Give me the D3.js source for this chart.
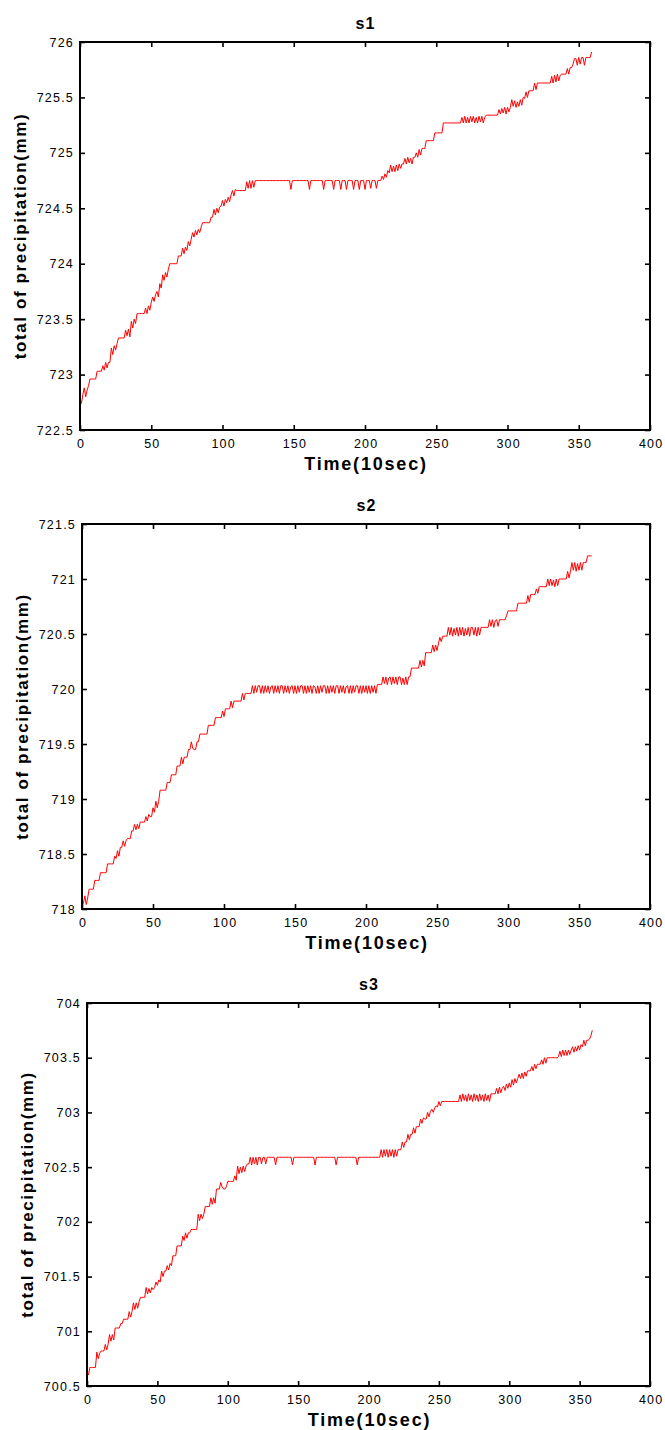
<!DOCTYPE html>
<html>
<head>
<meta charset="utf-8">
<script src="https://cdn.jsdelivr.net/npm/d3@7"></script>
<style>
  body { margin: 0; background: #fff; }
  svg { display: block; }
  .tick text { font-family: "Liberation Sans", Arial, sans-serif; font-size: 12.5px; letter-spacing: 1.2px; fill: #000; }
  .tick line { stroke: #000; stroke-width: 1.6; }
  .label { font-family: "Liberation Sans", Arial, sans-serif; font-weight: bold; fill: #000; }
</style>
</head>
<body>
<svg id="chart" width="665" height="1430"></svg>
<script>
// Accumulated precipitation at three stations, one sample per 10 s.
const stationNames = ["s1", "s2", "s3"];

const s1 = [
  722.78,722.74,722.82,722.88,722.80,722.86,722.90,722.96,722.96,722.96,
  722.96,722.96,723.03,723.03,723.03,723.03,723.08,723.04,723.11,723.06,
  723.11,723.11,723.24,723.18,723.26,723.22,723.28,723.33,723.33,723.33,
  723.33,723.33,723.40,723.35,723.41,723.34,723.48,723.42,723.50,723.46,
  723.55,723.55,723.55,723.55,723.55,723.55,723.60,723.55,723.62,723.58,
  723.65,723.70,723.66,723.72,723.75,723.70,723.82,723.78,723.90,723.85,
  723.92,723.88,723.95,724.00,724.00,724.00,724.00,724.00,724.00,724.07,
  724.07,724.07,724.14,724.09,724.15,724.12,724.20,724.16,724.22,724.28,
  724.24,724.30,724.26,724.31,724.28,724.33,724.37,724.37,724.37,724.37,
  724.37,724.37,724.42,724.42,724.49,724.44,724.50,724.46,724.51,724.52,
  724.57,724.52,724.58,724.55,724.60,724.56,724.62,724.66,724.61,724.67,
  724.66,724.66,724.66,724.66,724.66,724.66,724.66,724.74,724.68,724.75,
  724.68,724.75,724.69,724.75,724.75,724.75,724.75,724.75,724.75,724.75,
  724.75,724.75,724.75,724.75,724.75,724.75,724.75,724.75,724.75,724.75,
  724.75,724.75,724.75,724.75,724.75,724.75,724.75,724.75,724.67,724.75,
  724.75,724.75,724.75,724.75,724.75,724.75,724.75,724.75,724.75,724.75,
  724.75,724.67,724.75,724.75,724.75,724.75,724.75,724.75,724.75,724.75,
  724.75,724.67,724.75,724.75,724.75,724.75,724.75,724.75,724.67,724.75,
  724.75,724.75,724.75,724.67,724.75,724.75,724.75,724.67,724.75,724.75,
  724.75,724.75,724.67,724.75,724.75,724.75,724.67,724.75,724.75,724.75,
  724.67,724.75,724.75,724.75,724.68,724.75,724.75,724.75,724.68,724.75,
  724.75,724.75,724.79,724.76,724.81,724.78,724.84,724.82,724.89,724.83,
  724.88,724.83,724.89,724.84,724.90,724.86,724.90,724.90,724.95,724.90,
  724.96,724.91,724.95,724.90,724.96,724.96,725.00,724.96,725.03,724.98,
  725.04,725.04,725.04,725.11,725.11,725.11,725.11,725.11,725.11,725.18,
  725.18,725.18,725.18,725.18,725.18,725.27,725.27,725.27,725.27,725.27,
  725.27,725.27,725.27,725.27,725.27,725.27,725.27,725.27,725.32,725.27,
  725.33,725.27,725.32,725.27,725.33,725.28,725.33,725.27,725.32,725.27,
  725.33,725.28,725.33,725.27,725.32,725.34,725.34,725.34,725.34,725.34,
  725.34,725.34,725.34,725.34,725.39,725.35,725.40,725.36,725.41,725.35,
  725.41,725.37,725.41,725.48,725.42,725.47,725.41,725.46,725.42,725.48,
  725.43,725.50,725.49,725.55,725.50,725.56,725.56,725.56,725.56,725.63,
  725.57,725.63,725.63,725.63,725.63,725.63,725.63,725.63,725.63,725.63,
  725.63,725.69,725.63,725.70,725.64,725.71,725.65,725.70,725.71,725.71,
  725.71,725.71,725.76,725.71,725.77,725.77,725.80,725.85,725.85,725.79,
  725.86,725.80,725.86,725.86,725.79,725.86,725.86,725.86,725.86,725.91
];

const s2 = [
  718.05,718.05,718.12,718.04,718.10,718.18,718.18,718.18,718.18,718.26,
  718.26,718.26,718.26,718.33,718.33,718.33,718.33,718.33,718.41,718.41,
  718.41,718.41,718.41,718.48,718.46,718.53,718.48,718.56,718.56,718.62,
  718.57,718.62,718.64,718.64,718.64,718.71,718.71,718.77,718.72,718.77,
  718.73,718.79,718.79,718.79,718.79,718.84,718.80,718.86,718.84,718.84,
  718.92,718.88,718.98,718.92,718.98,719.08,719.08,719.08,719.08,719.08,
  719.15,719.15,719.15,719.22,719.22,719.22,719.22,719.30,719.30,719.30,
  719.38,719.32,719.38,719.38,719.38,719.45,719.45,719.52,719.46,719.45,
  719.45,719.52,719.52,719.59,719.59,719.59,719.59,719.59,719.59,719.67,
  719.67,719.67,719.67,719.67,719.74,719.74,719.74,719.74,719.74,719.80,
  719.75,719.82,719.82,719.82,719.82,719.89,719.83,719.89,719.89,719.89,
  719.89,719.89,719.89,719.96,719.90,719.96,719.96,719.96,719.96,719.96,
  720.03,719.96,720.03,719.97,720.03,720.03,719.96,720.03,719.96,720.03,
  719.97,720.03,719.96,720.02,720.03,719.96,720.03,719.97,720.03,719.96,
  720.03,720.03,719.96,720.03,719.97,720.03,719.96,720.02,720.03,719.96,
  720.03,719.96,720.03,719.97,720.03,720.03,719.96,720.03,719.96,720.03,
  719.97,720.03,719.96,720.03,720.02,719.96,720.03,719.96,720.03,719.97,
  720.03,720.03,719.96,720.03,719.96,720.03,719.97,720.03,719.96,720.03,
  720.03,719.96,720.03,719.97,720.03,719.96,720.02,720.03,719.96,720.03,
  719.96,720.03,719.97,720.03,720.03,719.96,720.03,719.96,720.03,719.97,
  720.03,719.96,720.03,719.96,720.03,719.97,720.03,719.96,720.04,720.04,
  720.04,720.04,720.11,720.05,720.11,720.04,720.10,720.11,720.04,720.11,
  720.05,720.11,720.04,720.11,720.11,720.04,720.10,720.04,720.11,720.04,
  720.11,720.11,720.19,720.19,720.19,720.19,720.19,720.19,720.26,720.20,
  720.26,720.21,720.33,720.33,720.33,720.33,720.33,720.40,720.34,720.40,
  720.35,720.41,720.47,720.43,720.48,720.48,720.48,720.48,720.56,720.49,
  720.56,720.48,720.55,720.49,720.56,720.48,720.56,720.49,720.56,720.48,
  720.55,720.49,720.56,720.48,720.56,720.56,720.49,720.56,720.48,720.56,
  720.49,720.56,720.56,720.56,720.56,720.56,720.56,720.63,720.57,720.63,
  720.56,720.62,720.63,720.57,720.63,720.63,720.63,720.63,720.63,720.67,
  720.71,720.71,720.71,720.71,720.71,720.71,720.71,720.78,720.78,720.78,
  720.78,720.78,720.78,720.78,720.85,720.79,720.86,720.86,720.86,720.86,
  720.91,720.87,720.93,720.93,720.93,720.93,720.93,720.93,721.00,720.94,
  721.00,720.94,720.99,720.93,721.00,720.94,721.00,721.00,721.00,721.00,
  721.00,721.00,721.07,721.01,721.07,721.15,721.08,721.15,721.07,721.14,
  721.08,721.15,721.08,721.15,721.15,721.15,721.21,721.21,721.21,721.21
];

const s3 = [
  700.62,700.60,700.67,700.67,700.67,700.67,700.67,700.81,700.75,700.80,
  700.82,700.82,700.82,700.88,700.83,700.88,700.97,700.91,700.97,700.92,
  701.03,701.03,701.03,701.03,701.07,701.07,701.11,701.11,701.11,701.11,
  701.18,701.13,701.18,701.26,701.20,701.26,701.21,701.27,701.31,701.31,
  701.31,701.31,701.40,701.34,701.39,701.35,701.40,701.38,701.40,701.45,
  701.42,701.47,701.45,701.55,701.50,701.55,701.55,701.60,701.56,701.62,
  701.60,701.69,701.69,701.69,701.78,701.78,701.78,701.78,701.87,701.83,
  701.90,701.85,701.90,701.90,701.93,701.93,701.93,701.93,701.93,702.07,
  702.01,702.07,702.03,702.07,702.14,702.14,702.14,702.14,702.22,702.16,
  702.22,702.17,702.30,702.30,702.30,702.36,702.32,702.30,702.30,702.32,
  702.37,702.37,702.37,702.37,702.37,702.42,702.38,702.51,702.44,702.50,
  702.45,702.51,702.46,702.51,702.53,702.53,702.59,702.52,702.59,702.53,
  702.59,702.52,702.59,702.59,702.53,702.59,702.59,702.53,702.59,702.59,
  702.59,702.59,702.59,702.59,702.52,702.59,702.59,702.59,702.59,702.59,
  702.59,702.59,702.59,702.59,702.59,702.59,702.52,702.59,702.59,702.59,
  702.59,702.59,702.59,702.59,702.59,702.59,702.59,702.59,702.59,702.59,
  702.59,702.59,702.52,702.59,702.59,702.59,702.59,702.59,702.59,702.59,
  702.59,702.59,702.59,702.59,702.59,702.59,702.59,702.52,702.59,702.59,
  702.59,702.59,702.59,702.59,702.59,702.59,702.59,702.59,702.59,702.59,
  702.59,702.59,702.52,702.59,702.59,702.59,702.59,702.59,702.59,702.59,
  702.59,702.59,702.59,702.59,702.59,702.59,702.59,702.59,702.59,702.66,
  702.59,702.66,702.60,702.66,702.59,702.66,702.60,702.66,702.59,702.66,
  702.60,702.66,702.66,702.66,702.73,702.68,702.73,702.73,702.80,702.75,
  702.80,702.80,702.86,702.81,702.87,702.87,702.87,702.94,702.90,702.95,
  702.94,702.94,703.00,702.96,703.01,703.03,703.00,703.04,703.06,703.05,
  703.10,703.06,703.10,703.10,703.10,703.10,703.10,703.10,703.10,703.10,
  703.10,703.10,703.10,703.10,703.10,703.16,703.10,703.17,703.11,703.16,
  703.10,703.17,703.11,703.16,703.10,703.17,703.11,703.16,703.10,703.17,
  703.11,703.16,703.10,703.17,703.11,703.16,703.10,703.17,703.17,703.17,
  703.17,703.22,703.17,703.23,703.18,703.22,703.24,703.20,703.26,703.22,
  703.27,703.23,703.30,703.25,703.31,703.27,703.31,703.35,703.31,703.36,
  703.31,703.37,703.33,703.38,703.38,703.38,703.42,703.38,703.44,703.40,
  703.44,703.44,703.44,703.48,703.44,703.50,703.45,703.50,703.50,703.50,
  703.50,703.50,703.50,703.50,703.50,703.51,703.56,703.51,703.57,703.52,
  703.57,703.52,703.57,703.53,703.57,703.60,703.55,703.60,703.56,703.61,
  703.57,703.62,703.60,703.66,703.61,703.66,703.66,703.67,703.70,703.75
];

const xTicks = [0, 50, 100, 150, 200, 250, 300, 350, 400];
const yTicks1 = [722.5, 723, 723.5, 724, 724.5, 725, 725.5, 726];
const yTicks2 = [718, 718.5, 719, 719.5, 720, 720.5, 721, 721.5];
const yTicks3 = [700.5, 701, 701.5, 702, 702.5, 703, 703.5, 704];

const xTitle = "Time(10sec)";
const yTitle = "total of precipitation(mm)";

// Panel frames in page pixels
const panels = [
  { name: stationNames[0], values: s1, yTicks: yTicks1, left: 80, right: 650, top: 42,   bottom: 430 },
  { name: stationNames[1], values: s2, yTicks: yTicks2, left: 82, right: 650, top: 524,  bottom: 909 },
  { name: stationNames[2], values: s3, yTicks: yTicks3, left: 87, right: 650, top: 1003, bottom: 1386 }
];

const svg = d3.select("#chart");
const fmt = d => String(+d.toFixed(1));

function drawPanel(p) {
  const g = svg.append("g");
  const x = d3.scaleLinear().domain([xTicks[0], xTicks[xTicks.length - 1]]).range([p.left, p.right]);
  const y = d3.scaleLinear().domain([p.yTicks[0], p.yTicks[p.yTicks.length - 1]]).range([p.bottom, p.top]);

  // series
  g.append("path")
    .datum(p.values)
    .attr("fill", "none")
    .attr("stroke", "#ff0000")
    .attr("stroke-width", 1)
    .attr("d", d3.line().x((d, i) => x(i)).y(d => y(d)));

  // inward ticks on all four sides
  const bottom = g.append("g").attr("transform", `translate(0,${p.bottom})`)
    .call(d3.axisBottom(x).tickValues(xTicks).tickFormat(fmt).tickSize(-5).tickSizeOuter(0).tickPadding(9));
  bottom.selectAll(".tick text").attr("dx", "0.6px");
  const top = g.append("g").attr("transform", `translate(0,${p.top})`)
    .call(d3.axisTop(x).tickValues(xTicks).tickFormat("").tickSize(-5).tickSizeOuter(0));
  const left = g.append("g").attr("transform", `translate(${p.left},0)`)
    .call(d3.axisLeft(y).tickValues(p.yTicks).tickFormat(fmt).tickSize(-5).tickSizeOuter(0).tickPadding(6));
  const right = g.append("g").attr("transform", `translate(${p.right},0)`)
    .call(d3.axisRight(y).tickValues(p.yTicks).tickFormat("").tickSize(-5).tickSizeOuter(0));
  [bottom, top, left, right].forEach(a => a.select(".domain").remove());

  // frame
  g.append("rect")
    .attr("x", p.left).attr("y", p.top)
    .attr("width", p.right - p.left).attr("height", p.bottom - p.top)
    .attr("fill", "none").attr("stroke", "#000").attr("stroke-width", 2);

  const cx = (p.left + p.right) / 2;
  g.append("text").attr("class", "label")
    .attr("x", cx + 0.5).attr("y", p.top - 13)
    .attr("text-anchor", "middle")
    .style("font-size", "16px").style("letter-spacing", "1px")
    .text(p.name);

  g.append("text").attr("class", "label")
    .attr("x", cx + 1).attr("y", p.bottom + 40)
    .attr("text-anchor", "middle")
    .style("font-size", "18px").style("letter-spacing", "1.8px")
    .text(xTitle);

  g.append("text").attr("class", "label")
    .attr("transform", `translate(${p.left - 54},${(p.top + p.bottom) / 2}) rotate(-90)`)
    .attr("text-anchor", "middle")
    .style("font-size", "17px").style("letter-spacing", "1.6px")
    .text(yTitle);
}

panels.forEach(drawPanel);
</script>
</body>
</html>
